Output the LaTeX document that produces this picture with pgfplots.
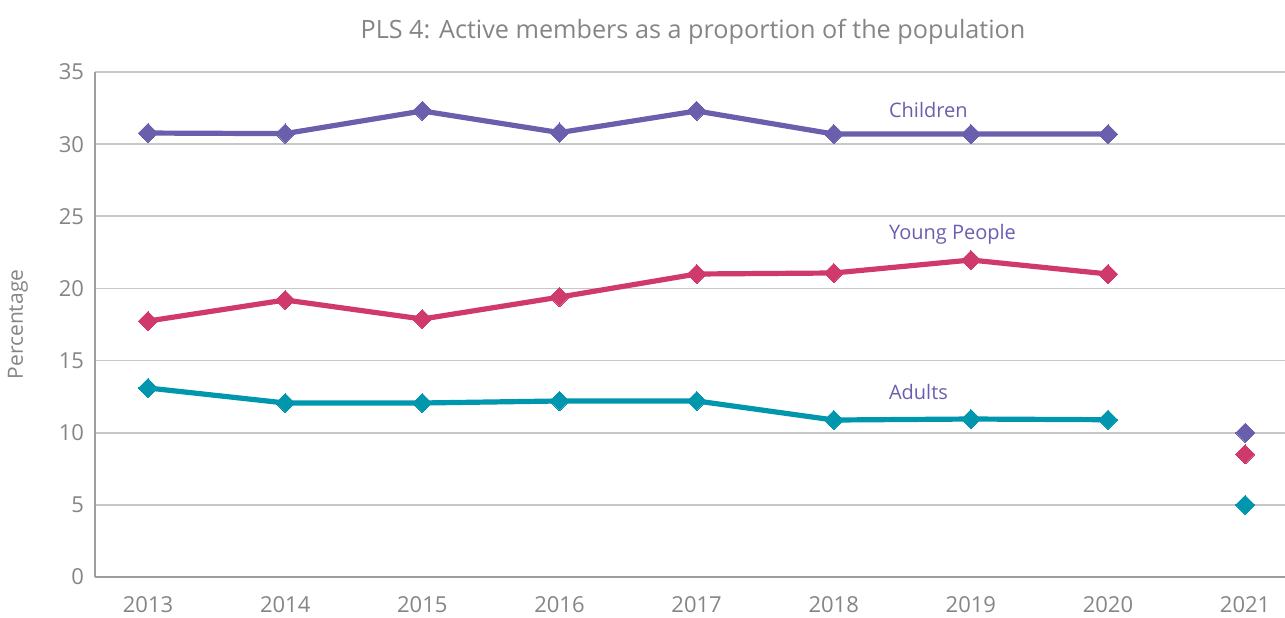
\documentclass[border=0pt]{standalone}
\usepackage{pgfplots}
\pgfplotsset{compat=1.18}
\usepackage{fontspec}
\setmainfont{Open Sans}
\definecolor{cpurple}{HTML}{6A5FAD}
\definecolor{cpink}{HTML}{D0396B}
\definecolor{cteal}{HTML}{0096AE}
\definecolor{ctext}{HTML}{858585}
\definecolor{cgrid}{HTML}{C8C8C8}
\begin{document}
\begin{tikzpicture}
\path[use as bounding box] (-47.5pt,-20pt) rectangle (595pt,288.5pt);
\begin{axis}[
  at={(0,0)}, anchor=origin,
  scale only axis, width=595pt, height=252.5pt,
  xmin=2012.613, xmax=2021.29, ymin=0, ymax=35,
  xtick={2013,...,2021}, ytick={0,5,...,35},
  xticklabel style={/pgf/number format/1000 sep=, yshift=-6pt},
  yticklabel style={xshift=-2pt},
  /pgf/number format/assume math mode=true,
  tick style={draw=none},
  ymajorgrids, grid style={cgrid, line width=0.8pt},
  axis x line*=bottom, axis y line*=left,
  axis line style={ctext!80, line width=0.8pt, -},
  ticklabel style={font=\fontsize{11}{13}\selectfont, text=ctext},
  every axis plot/.append style={line width=2.6pt, mark=square*, mark size=3.4pt, mark options={rotate=45, solid, line width=0pt}},
  clip=false,
]
\addplot[cpurple] coordinates {(2013,30.77)(2014,30.73)(2015,32.3)(2016,30.8)(2017,32.3)(2018,30.7)(2019,30.7)(2020,30.7)};
\addplot[cpink] coordinates {(2013,17.74)(2014,19.2)(2015,17.88)(2016,19.4)(2017,21.0)(2018,21.07)(2019,21.97)(2020,21.0)};
\addplot[cteal] coordinates {(2013,13.1)(2014,12.06)(2015,12.06)(2016,12.2)(2017,12.2)(2018,10.88)(2019,10.95)(2020,10.9)};
\addplot[cpurple, only marks] coordinates {(2021,10.0)};
\addplot[cpink, only marks] coordinates {(2021,8.5)};
\addplot[cteal, only marks] coordinates {(2021,5.0)};
\node[anchor=west, text=cpurple, font=\fontsize{10}{12}\selectfont, inner sep=0pt] at (axis cs:2018.4,32.36) {Children};
\node[anchor=west, text=cpurple, font=\fontsize{10}{12}\selectfont, inner sep=0pt] at (axis cs:2018.4,23.77) {Young People};
\node[anchor=west, text=cpurple, font=\fontsize{10}{12}\selectfont, inner sep=0pt] at (axis cs:2018.4,12.82) {Adults};
\node[text=ctext, font=\fontsize{12.6}{14}\selectfont, inner sep=0pt, anchor=center] at (axis description cs:0.5025,1) [yshift=20pt] {PLS 4: Active members as a proportion of the population};
\node[text=ctext, font=\fontsize{10.5}{12}\selectfont, inner sep=0pt, rotate=90, anchor=center] at (axis description cs:0,0.5) [yshift=38.5pt] {Percentage};
\end{axis}
\end{tikzpicture}
\end{document}
